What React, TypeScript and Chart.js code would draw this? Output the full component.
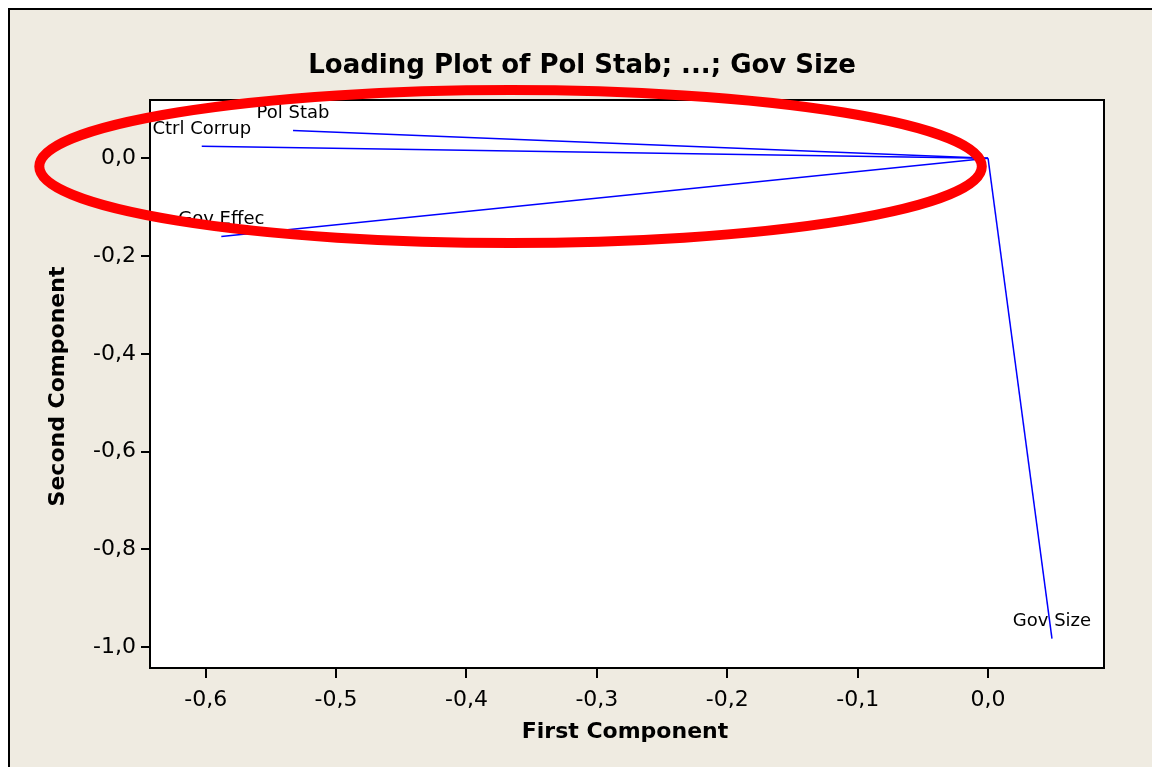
import { useEffect, useRef } from "react";
import { Chart, registerables } from "chart.js";

Chart.register(...registerables);

const variables = ["Pol Stab", "Ctrl Corrup", "Gov Effec", "Gov Size"];
const firstComponent = [-0.533, -0.603, -0.588, 0.049];
const secondComponent = [0.057, 0.025, -0.16, -0.983];
const xTickValues = [-0.6, -0.5, -0.4, -0.3, -0.2, -0.1, 0.0];
const yTickValues = [-1.0, -0.8, -0.6, -0.4, -0.2, 0.0];
const xRange = [-0.6427, 0.0889];
const yRange = [-1.043, 0.1194];
const titleText = "Loading Plot of Pol Stab; ...; Gov Size";
const xTitle = "First Component";
const yTitle = "Second Component";
// red highlight ellipse, in data units: centre (x, y) and radii (x, y)
const highlightCenter = [-0.3662, -0.0168];
const highlightRadius = [0.3614, 0.1566];

const BG = "#EFEBE1";
const FONT = "'DejaVu Sans', Verdana, sans-serif";

const fmt = (v: number) => {
  if (Math.abs(v) < 1e-9) return "0,0";
  return v.toFixed(1).replace(".", ",");
};

const decor = {
  id: "decor",
  beforeDraw(chart: any) {
    const { ctx, width, height, chartArea: a } = chart;
    ctx.save();
    ctx.fillStyle = BG;
    ctx.fillRect(0, 0, width, height);
    ctx.fillStyle = "#ffffff";
    ctx.fillRect(a.left, a.top, a.right - a.left, a.bottom - a.top);
    ctx.fillStyle = "#000000";
    ctx.fillRect(0, 0, width, 2);
    ctx.fillRect(0, 0, 2, height);
    ctx.restore();
  },
  afterDraw(chart: any) {
    const { ctx, width, chartArea: a } = chart;
    const xs = chart.scales.x;
    const ys = chart.scales.y;
    ctx.save();
    // variable labels
    ctx.beginPath();
    ctx.rect(a.left, a.top, a.right - a.left, a.bottom - a.top);
    ctx.clip();
    ctx.fillStyle = "#000";
    ctx.font = `18px ${FONT}`;
    ctx.textAlign = "center";
    ctx.textBaseline = "alphabetic";
    variables.forEach((name, i) => {
      const px = xs.getPixelForValue(firstComponent[i]);
      const py = ys.getPixelForValue(secondComponent[i]);
      ctx.fillText(name, px, py - 12.5);
    });
    ctx.restore();

    ctx.save();
    // frame
    ctx.strokeStyle = "#000";
    ctx.lineWidth = 2;
    ctx.strokeRect(a.left, a.top, a.right - a.left, a.bottom - a.top);

    // titles
    ctx.fillStyle = "#000";
    ctx.textAlign = "center";
    ctx.textBaseline = "alphabetic";
    ctx.font = `bold 26px ${FONT}`;
    ctx.fillText(titleText, width / 2 + 2, 65);
    ctx.font = `bold 22px ${FONT}`;
    ctx.fillText(xTitle, (a.left + a.right) / 2 - 2, 730);
    ctx.save();
    ctx.translate(56, (a.top + a.bottom) / 2 + 2.5);
    ctx.rotate(-Math.PI / 2);
    ctx.fillText(yTitle, 0, 0);
    ctx.restore();

    // red highlight ellipse
    const cx = xs.getPixelForValue(highlightCenter[0]);
    const cy = ys.getPixelForValue(highlightCenter[1]);
    const rx = Math.abs(xs.getPixelForValue(highlightCenter[0] + highlightRadius[0]) - cx);
    const ry = Math.abs(ys.getPixelForValue(highlightCenter[1] + highlightRadius[1]) - cy);
    ctx.beginPath();
    ctx.ellipse(cx, cy, rx, ry, 0, 0, Math.PI * 2);
    ctx.strokeStyle = "#FF0000";
    ctx.lineWidth = 10;
    ctx.stroke();
    ctx.restore();
  },
};

export default function App() {
  const ref = useRef<HTMLCanvasElement | null>(null);
  useEffect(() => {
    if (!ref.current) return;
    const datasets = variables.map((name, i) => ({
      label: name,
      data: [
        { x: 0, y: 0 },
        { x: firstComponent[i], y: secondComponent[i] },
      ],
      showLine: true,
      borderColor: "#0000FF",
      backgroundColor: "#0000FF",
      borderWidth: 1.5,
      pointRadius: 0,
      pointHoverRadius: 0,
    }));
    const chart = new Chart(ref.current, {
      type: "scatter",
      data: { datasets },
      options: {
        responsive: false,
        animation: false,
        devicePixelRatio: 1,
        layout: { padding: { top: 92, right: 48, left: 0, bottom: 0 } },
        plugins: {
          legend: { display: false },
          title: { display: false },
          tooltip: { enabled: false },
        },
        scales: {
          x: {
            type: "linear",
            min: xRange[0],
            max: xRange[1],
            afterFit: (s: any) => {
              s.height = 99;
            },
            afterBuildTicks: (s: any) => {
              s.ticks = xTickValues.map((v) => ({ value: v }));
            },
            grid: {
              drawOnChartArea: false,
              drawTicks: true,
              tickLength: 10,
              color: "#000",
              lineWidth: 2,
            },
            border: { display: false },
            ticks: {
              color: "#000",
              font: { family: FONT, size: 22 },
              padding: 9,
              maxRotation: 0,
              autoSkip: false,
              callback: (v: any) => fmt(Number(v)),
            },
          },
          y: {
            type: "linear",
            min: yRange[0],
            max: yRange[1],
            afterFit: (s: any) => {
              s.width = 142;
            },
            afterBuildTicks: (s: any) => {
              s.ticks = yTickValues.map((v) => ({ value: v }));
            },
            grid: {
              drawOnChartArea: false,
              drawTicks: true,
              tickLength: 9,
              color: "#000",
              lineWidth: 2,
            },
            border: { display: false },
            ticks: {
              color: "#000",
              font: { family: FONT, size: 22 },
              padding: 5,
              autoSkip: false,
              callback: (v: any) => fmt(Number(v)),
            },
          },
        },
      },
      plugins: [decor],
    });
    return () => chart.destroy();
  }, []);
  return (
    <canvas
      ref={ref}
      width={1144}
      height={759}
      style={{ display: "block", position: "fixed", left: 8, top: 8, width: 1144, height: 759 }}
    />
  );
}
